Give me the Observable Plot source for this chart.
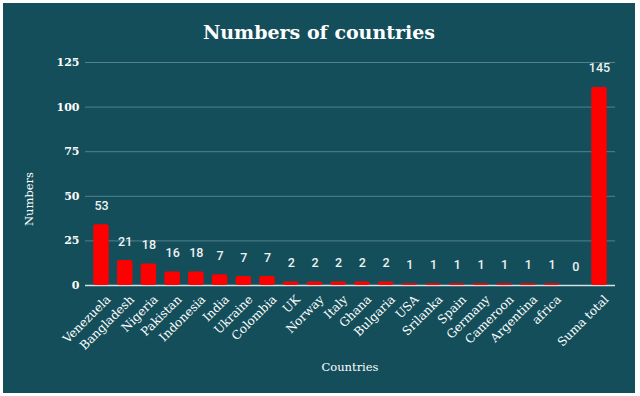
<!DOCTYPE html>
<html>
<head>
<meta charset="utf-8">
<script src="https://cdn.jsdelivr.net/npm/d3@7"></script>
<script src="https://cdn.jsdelivr.net/npm/@observablehq/plot@0.6"></script>
<style>
  html, body { margin: 0; padding: 0; background: #ffffff; width: 640px; height: 396px; overflow: hidden; }
  #panel { position: absolute; left: 3px; top: 3px; width: 632px; height: 390px; background: #134e5a; }
  #title { position: absolute; left: 0; width: 632px; top: 15px; text-align: center; color: #ffffff;
           font-family: "DejaVu Serif", serif; font-weight: bold; font-size: 19px; line-height: 28px; }
  #xlabel { position: absolute; left: 0; width: 694px; top: 356px; text-align: center; color: #ffffff;
            font-family: "DejaVu Serif", serif; font-size: 11.5px; line-height: 16px; }
  #ylabel { position: absolute; left: 26px; top: 196px; color: #ffffff; white-space: nowrap;
            font-family: "DejaVu Serif", serif; font-size: 11.5px; line-height: 14px;
            transform: translate(-50%, -50%) rotate(-90deg); }
  #chart { position: absolute; left: 0; top: 0; }
</style>
</head>
<body>
<div id="panel">
  <div id="title">Numbers of countries</div>
  <div id="chart"></div>
  <div id="xlabel">Countries</div>
  <div id="ylabel">Numbers</div>
</div>
<script>
const categories = ["Venezuela", "Bangladesh", "Nigeria", "Pakistan", "Indonesia", "India", "Ukraine", "Colombia",
  "UK", "Norway", "Italy", "Ghana", "Bulgaria", "USA", "Srilanka", "Spain", "Germany", "Cameroon",
  "Argentina", "africa", "", "Suma total"];
const barValues = [34, 14, 12, 7.5, 7.5, 6, 5, 5, 2, 2, 2, 2, 2, 1, 1, 1, 1, 1, 1, 1, 0, 111];
const labelValues = [53, 21, 18, 16, 18, 7, 7, 7, 2, 2, 2, 2, 2, 1, 1, 1, 1, 1, 1, 1, 0, 145];
const yTicks = [0, 25, 50, 75, 100, 125];

const data = categories.map((c, i) => ({country: c, bar: barValues[i], label: labelValues[i]}));

const chart = Plot.plot({
  width: 632,
  height: 390,
  marginLeft: 82,
  marginRight: 20,
  marginTop: 59,
  marginBottom: 108,
  style: {background: "transparent", color: "#ffffff", fontFamily: "DejaVu Serif, serif", fontSize: "11px"},
  x: {domain: categories, padding: 0.35, round: false, label: null},
  y: {domain: [0, 125], label: null},
  marks: [
    Plot.ruleY(yTicks.filter(d => d > 0), {stroke: "#52838d", strokeWidth: 1}),
    Plot.ruleY([0], {stroke: "#d6e0e2", strokeWidth: 1.5}),
    Plot.barY(data, {x: "country", y: "bar", fill: "#ff0000", rx: 2}),
    Plot.text(data, {x: "country", y: "bar", text: d => String(d.label), dy: -19, fill: "#eef2f3",
      fontFamily: "Roboto, sans-serif", fontSize: 12.5, fontWeight: 500}),
    Plot.axisY({ticks: yTicks, tickSize: 0, tickPadding: 6, label: null, fontWeight: "bold", fontSize: 11}),
    Plot.axisX({tickSize: 0, tickPadding: 12, tickRotate: -45, label: null, fontSize: 12, dx: 7})
  ]
});
document.getElementById("chart").appendChild(chart);
</script>
</body>
</html>
